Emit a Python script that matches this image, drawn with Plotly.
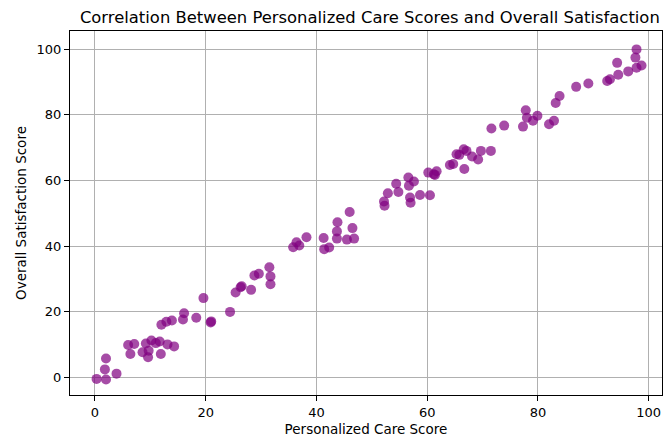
import plotly.graph_objects as go

care_score = [
    0.3, 2.0, 1.8, 2.0, 3.9, 6.0, 7.1, 6.4, 8.6, 9.2,
    9.7, 9.6, 10.2, 11.0, 11.7, 11.9, 13.1, 14.3, 12.0, 12.9,
    13.9, 15.9, 16.1, 18.3, 20.9, 21.0, 24.4, 19.6, 25.4, 26.3,
    26.5, 28.2, 28.8, 29.6, 31.5, 31.7, 31.7, 35.8, 36.4, 36.9,
    38.2, 41.3, 41.4, 42.3, 43.7, 43.7, 43.8, 45.5, 46.8, 46.5,
    46.0, 52.2, 52.3, 52.9, 54.4, 54.8, 56.6, 57.6, 56.7, 56.9,
    57.0, 58.7, 60.5, 60.2, 61.2, 61.7, 61.4, 64.1, 64.7, 66.7,
    65.3, 65.8, 66.6, 67.1, 68.1, 69.2, 69.7, 71.5, 71.6, 73.9,
    77.3, 77.8, 78.0, 79.1, 79.9, 82.0, 82.9, 83.2, 83.9, 86.9,
    89.1, 92.5, 93.0, 94.5, 94.3, 96.3, 97.8, 98.7, 97.6, 97.8,
]
satisfaction = [
    -0.4, -0.6, 2.5, 5.8, 1.2, 9.9, 10.2, 7.2, 7.7, 10.4,
    8.2, 6.2, 11.3, 10.5, 11.0, 7.2, 10.1, 9.5, 16.1, 17.0,
    17.4, 17.7, 19.6, 18.2, 16.8, 17.1, 20.0, 24.2, 25.9, 27.5,
    27.8, 26.7, 31.1, 31.6, 33.6, 30.8, 28.4, 39.7, 41.2, 40.2,
    42.7, 42.5, 39.1, 39.6, 42.3, 44.5, 47.3, 42.0, 42.3, 45.5,
    50.4, 53.6, 52.3, 56.1, 59.0, 56.5, 60.9, 59.7, 58.4, 54.8,
    53.2, 55.6, 55.5, 62.4, 61.9, 62.8, 61.7, 64.7, 65.0, 63.5,
    68.0, 67.8, 69.5, 69.0, 67.3, 66.4, 69.0, 69.0, 75.8, 76.7,
    76.4, 81.4, 79.1, 78.2, 79.7, 77.1, 78.2, 83.6, 85.7, 88.5,
    89.5, 90.3, 90.8, 92.2, 95.8, 93.2, 94.3, 95.0, 97.4, 99.9,
]

fig = go.Figure(go.Scatter(
    x=care_score, y=satisfaction, mode="markers",
    marker=dict(size=10, color="rgba(128,0,128,0.7)", line=dict(width=0)),
))

axis_style = dict(
    showline=True, linecolor="black", linewidth=1, mirror=True,
    ticks="outside", ticklen=5, tickcolor="black",
    showgrid=True, gridcolor="#b0b0b0", gridwidth=1,
    zeroline=False, tickfont=dict(size=13, color="black"),
)

fig.update_xaxes(range=[-4.5, 102.4], dtick=20,
                 title=dict(text="Personalized Care Score", font=dict(size=13.5), standoff=5),
                 **axis_style)
fig.update_yaxes(range=[-5.3, 105.5], dtick=20,
                 title=dict(text="Overall Satisfaction Score", font=dict(size=13.5), standoff=6),
                 **axis_style)

fig.update_layout(
    title=dict(text="Correlation Between Personalized Care Scores and Overall Satisfaction",
               x=0.557, xanchor="center", y=0.96, yanchor="middle",
               font=dict(size=16.4, color="black")),
    font=dict(family="DejaVu Sans", color="black"),
    plot_bgcolor="white", paper_bgcolor="white",
    width=664, height=439,
    margin=dict(l=70, r=2, t=31, b=44),
    showlegend=False,
)

fig.write_html("out.html", config={"displayModeBar": False})

# drop the browser's default body margin so the figure sits at the page corner
with open("out.html", encoding="utf-8") as f:
    page = f.read()
page = page.replace("<body>", '<body style="margin:0;overflow:hidden">', 1)
with open("out.html", "w", encoding="utf-8") as f:
    f.write(page)
